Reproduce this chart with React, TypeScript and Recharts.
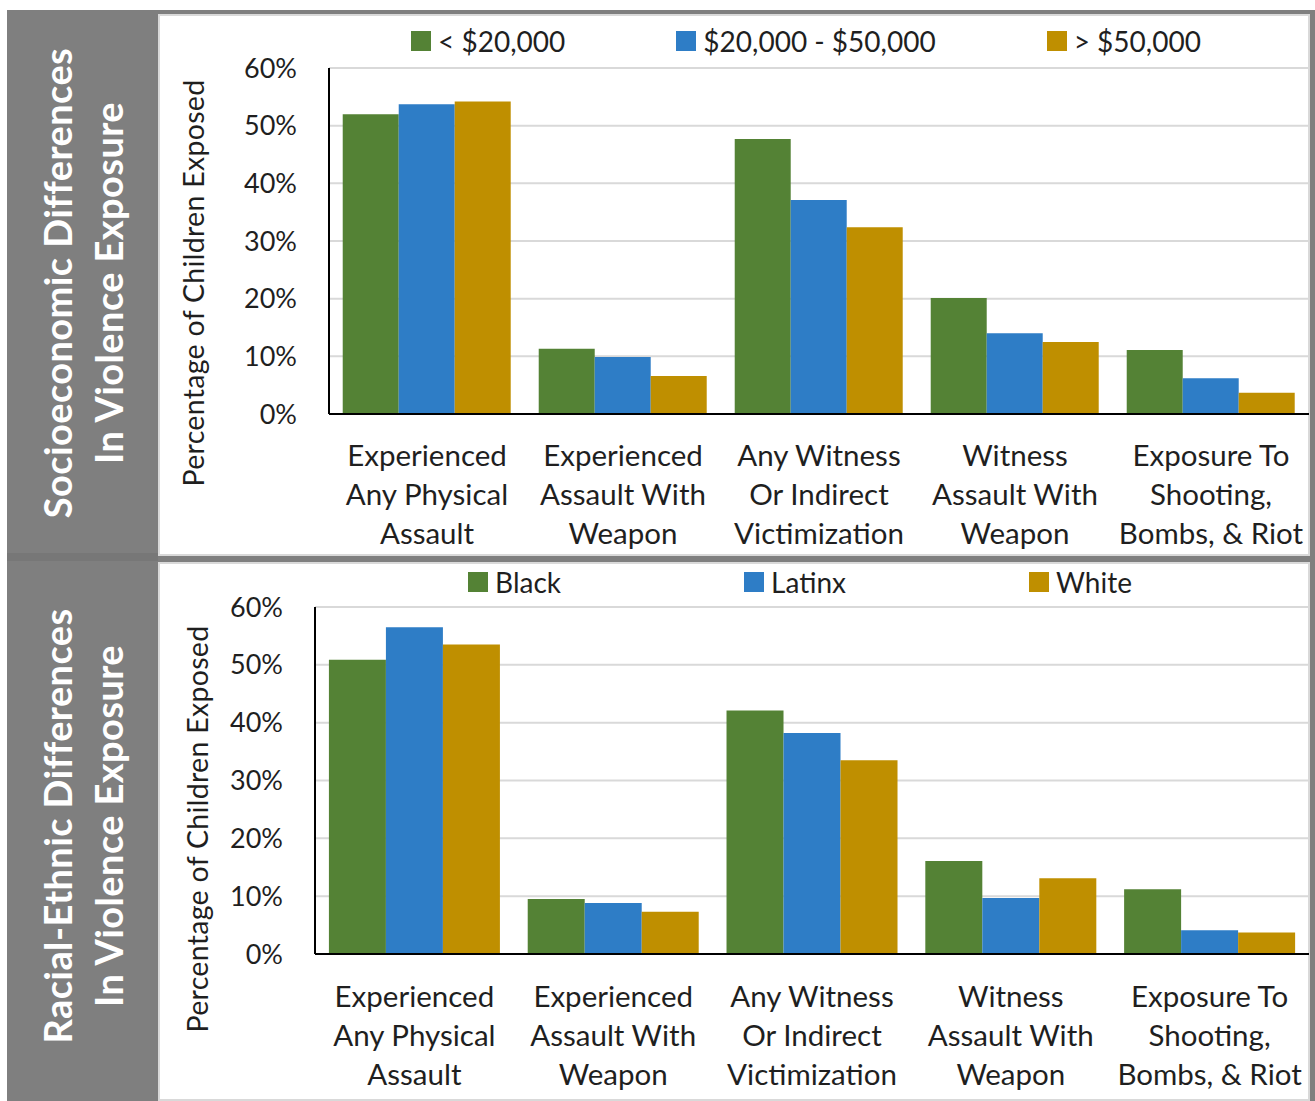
import React from "react";
import { BarChart, Bar, XAxis, YAxis, CartesianGrid } from "recharts";

// Exposure categories (line breaks mark where the axis label wraps)
const categories = [
  "Experienced\nAny Physical\nAssault",
  "Experienced\nAssault With\nWeapon",
  "Any Witness\nOr Indirect\nVictimization",
  "Witness\nAssault With\nWeapon",
  "Exposure To\nShooting,\nBombs, & Riot",
];

// Household income groups (% of children exposed)
const incomeNames = ["< $20,000", "$20,000 - $50,000", "> $50,000"];
const incomeUnder20k = [52.0, 11.3, 47.7, 20.1, 11.1];
const income20to50k = [53.7, 9.9, 37.1, 14.0, 6.2];
const incomeOver50k = [54.2, 6.6, 32.4, 12.5, 3.7];

// Racial-ethnic groups (% of children exposed)
const raceNames = ["Black", "Latinx", "White"];
const raceBlack = [50.9, 9.5, 42.1, 16.1, 11.2];
const raceLatinx = [56.5, 8.8, 38.2, 9.7, 4.1];
const raceWhite = [53.5, 7.3, 33.5, 13.1, 3.7];

const yTicks = [0, 10, 20, 30, 40, 50, 60];

const COLORS = ["#548235", "#2E7DC6", "#BF8F00"];
const FONT = "Lato, 'Open Sans', sans-serif";
const TEXT = "#1f1f1f";
const SIDEBAR = "#7f7f7f";

const buildRows = (a: number[], b: number[], c: number[]) =>
  categories.map((name, i) => ({ name, s0: a[i], s1: b[i], s2: c[i] }));

const incomeRows = buildRows(incomeUnder20k, income20to50k, incomeOver50k);
const raceRows = buildRows(raceBlack, raceLatinx, raceWhite);

function CategoryTick(props: any) {
  const { x, y, payload, firstOffset } = props;
  const lines = String(payload.value).split("\n");
  return (
    <text
      x={x}
      y={y + firstOffset}
      textAnchor="middle"
      fontFamily={FONT}
      fontSize={29.5}
      fill={TEXT}
      dominantBaseline="central"
    >
      {lines.map((l: string, i: number) => (
        <tspan key={i} x={x} dy={i === 0 ? 0 : 39}>
          {l}
        </tspan>
      ))}
    </text>
  );
}

function Legend({ names, gap, center, top }: { names: string[]; gap: number; center: number; top: number }) {
  return (
    <div
      style={{
        position: "absolute",
        top,
        left: center - 600,
        width: 1200,
        display: "flex",
        justifyContent: "center",
        gap,
        fontFamily: FONT,
        fontSize: 28,
        color: TEXT,
        lineHeight: "34px",
      }}
    >
      {names.map((n, i) => (
        <div key={n} style={{ display: "flex", alignItems: "center", whiteSpace: "nowrap" }}>
          <span style={{ width: 20, height: 20, background: COLORS[i], marginRight: 7, display: "inline-block" }} />
          <span>{n}</span>
        </div>
      ))}
    </div>
  );
}

function Panel(props: {
  top: number;
  height: number;
  rows: any[];
  names: string[];
  plotTop: number;
  axisWidth: number;
  xAxisHeight: number;
  legendGap: number;
  legendCenter: number;
  legendTop: number;
  yLabelX: number;
  yLabelY: number;
  title: string[];
  titleY: number;
  firstOffset: number;
}) {
  const { top, height, rows, names } = props;
  return (
    <>
      {/* side title */}
      <div
        style={{
          position: "absolute",
          left: 87 - 300,
          top: props.titleY - 55,
          width: 600,
          height: 110,
          transform: "rotate(-90deg)",
          color: "#ffffff",
          fontFamily: FONT,
          fontWeight: 700,
          fontSize: 38,
          letterSpacing: 0.4,
          lineHeight: "51px",
          textAlign: "center",
          whiteSpace: "nowrap",
        }}
      >
        {props.title.map((t) => (
          <div key={t}>{t}</div>
        ))}
      </div>
      {/* white chart panel */}
      <div
        style={{
          position: "absolute",
          left: 158,
          top,
          width: 1152,
          height,
          background: "#ffffff",
          boxShadow: "inset 0 0 0 2px #d9d9d9",
        }}
      >
        <BarChart
          width={1152}
          height={height}
          data={rows}
          margin={{ top: props.plotTop, right: 1, bottom: 0, left: 0 }}
          barGap={0}
          barCategoryGap="7%"
        >
          <CartesianGrid vertical={false} stroke="#d9d9d9" strokeWidth={2} />
          <XAxis
            dataKey="name"
            interval={0}
            height={props.xAxisHeight}
            tickLine={false}
            tickSize={0}
            tickMargin={0}
            axisLine={{ stroke: "#000", strokeWidth: 2 }}
            tick={<CategoryTick firstOffset={props.firstOffset} />}
          />
          <YAxis
            width={props.axisWidth}
            domain={[0, 60]}
            ticks={yTicks}
            interval={0}
            tickLine={false}
            tickSize={0}
            tickMargin={32}
            axisLine={{ stroke: "#000", strokeWidth: 2 }}
            tickFormatter={(v: number) => `${v}%`}
            tick={{ fontFamily: FONT, fontSize: 27, fill: TEXT }}
          />
          {names.map((n, i) => (
            <Bar key={n} dataKey={`s${i}`} name={n} fill={COLORS[i]} isAnimationActive={false} />
          ))}
        </BarChart>
        <div
          style={{
            position: "absolute",
            left: props.yLabelX - 158 - 250,
            top: props.yLabelY - top - 17,
            width: 500,
            height: 34,
            lineHeight: "34px",
            transform: "rotate(-90deg)",
            textAlign: "center",
            fontFamily: FONT,
            fontSize: 28.5,
            letterSpacing: 0.3,
            color: TEXT,
            whiteSpace: "nowrap",
          }}
        >
          Percentage of Children Exposed
        </div>
        <Legend names={names} gap={props.legendGap} center={props.legendCenter - 158} top={props.legendTop - top - 17} />
      </div>
    </>
  );
}

export default function App() {
  return (
    <div
      style={{
        position: "absolute",
        left: 0,
        top: 0,
        width: 1315,
        height: 1101,
        background: "#ffffff",
        overflow: "hidden",
      }}
    >
      {/* grey frame and sidebar */}
      <div style={{ position: "absolute", left: 7, top: 10, width: 1308, height: 1091, background: SIDEBAR }} />
      <div style={{ position: "absolute", left: 7, top: 553, width: 151, height: 8, background: "#777777" }} />
      <Panel
        top={14}
        height={542}
        rows={incomeRows}
        names={incomeNames}
        plotTop={54}
        axisWidth={171}
        xAxisHeight={142}
        legendGap={111}
        legendCenter={806}
        legendTop={41}
        yLabelX={193}
        yLabelY={283}
        title={["Socioeconomic Differences", "In Violence Exposure"]}
        titleY={283}
        firstOffset={40}
      />
      <Panel
        top={562}
        height={539}
        rows={raceRows}
        names={raceNames}
        plotTop={45}
        axisWidth={157}
        xAxisHeight={147}
        legendGap={183}
        legendCenter={800}
        legendTop={582}
        yLabelX={197}
        yLabelY={829}
        title={["Racial-Ethnic Differences", "In Violence Exposure"]}
        titleY={826}
        firstOffset={41}
      />
    </div>
  );
}
